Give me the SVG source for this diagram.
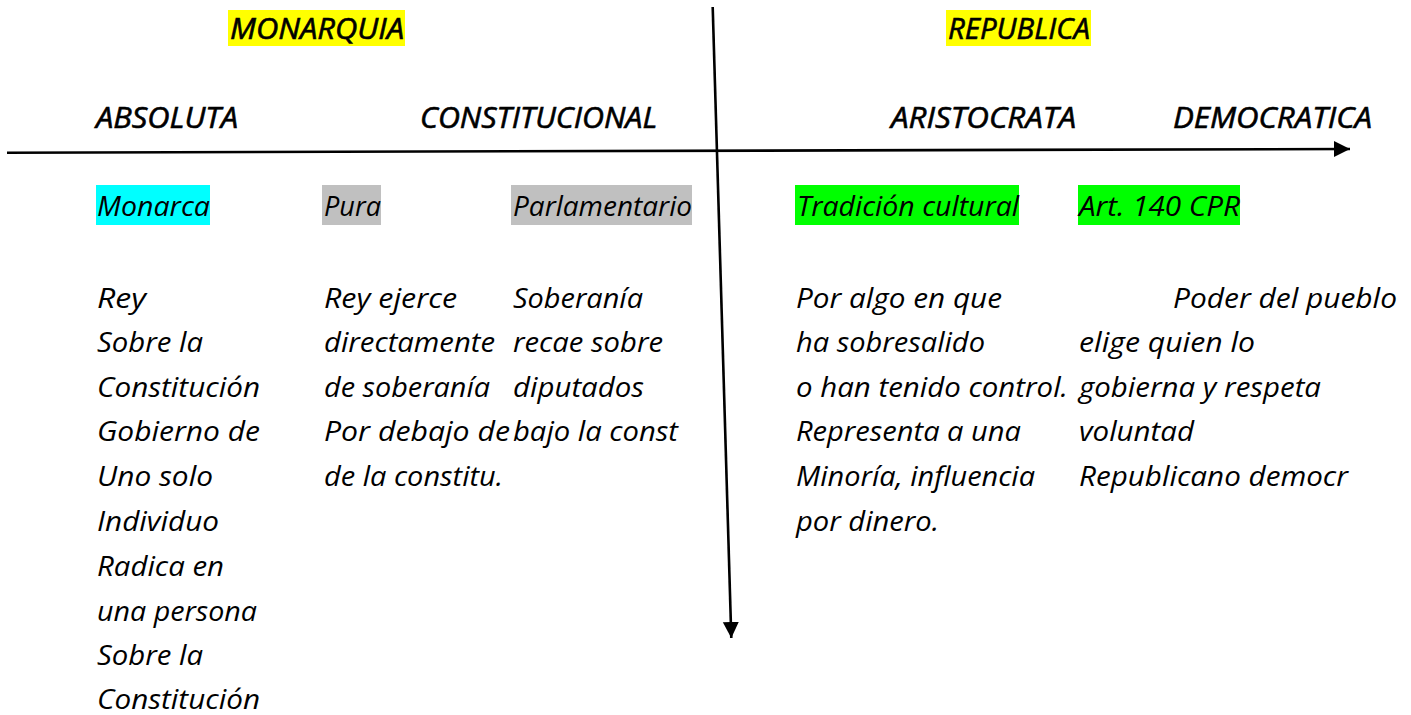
<svg xmlns="http://www.w3.org/2000/svg" width="1411" height="715" viewBox="0 0 1411 715">
<style>
  text { font-family: "Open Sans", "Noto Sans", "Liberation Sans", sans-serif; font-style: italic; font-size: 27px; fill: #000; }
  .lbl { font-size: 27px; }
  .hd { font-size: 29px; stroke: #000; stroke-width: 0.6; }
  .axis { stroke: #000; stroke-width: 2.6; fill: none; }
  .yel { fill: #ffff00; }
  .cyan { fill: #00ffff; }
  .gray { fill: #c0c0c0; }
  .green { fill: #00ff00; }
</style>
<defs>
  <marker id="arr" markerUnits="userSpaceOnUse" markerWidth="18" markerHeight="18" refX="16" refY="8.5" orient="auto">
    <path d="M0,0.5 L16,8.5 L0,16.5 Z" fill="#000"/>
  </marker>
</defs>
<rect width="1411" height="715" fill="#fff"/>
<g id="connectors">
  <line class="axis" x1="7" y1="152.7" x2="1350" y2="149" marker-end="url(#arr)"/>
  <line class="axis" x1="712.7" y1="7" x2="731.3" y2="638" marker-end="url(#arr)"/>
</g>
<g id="monarquia">
  <rect class="yel" x="228" y="10" width="177" height="36"/>
  <text class="hd" x="230" y="39" textLength="174" lengthAdjust="spacingAndGlyphs">MONARQUIA</text>
</g>
<g id="republica">
  <rect class="yel" x="946" y="10" width="145" height="36"/>
  <text class="hd" x="948" y="39" textLength="142" lengthAdjust="spacingAndGlyphs">REPUBLICA</text>
</g>
<g id="absoluta">
  <text class="hd" x="96" y="127.5" textLength="142" lengthAdjust="spacingAndGlyphs">ABSOLUTA</text>
</g>
<g id="constitucional">
  <text class="hd" x="420" y="127.5" textLength="237" lengthAdjust="spacingAndGlyphs">CONSTITUCIONAL</text>
</g>
<g id="aristocrata">
  <text class="hd" x="891" y="127.5" textLength="185" lengthAdjust="spacingAndGlyphs">ARISTOCRATA</text>
</g>
<g id="democratica">
  <text class="hd" x="1173" y="127.5" textLength="199" lengthAdjust="spacingAndGlyphs">DEMOCRATICA</text>
</g>
<g id="monarca">
  <rect class="cyan" x="96" y="185" width="114" height="40"/>
  <text class="lbl" x="97" y="216" textLength="113" lengthAdjust="spacingAndGlyphs">Monarca</text>
</g>
<g id="pura">
  <rect class="gray" x="322" y="185" width="59" height="40"/>
  <text class="lbl" x="324" y="216" textLength="57" lengthAdjust="spacingAndGlyphs">Pura</text>
</g>
<g id="parlamentario">
  <rect class="gray" x="511" y="185" width="181" height="40"/>
  <text class="lbl" x="513" y="216" textLength="179" lengthAdjust="spacingAndGlyphs">Parlamentario</text>
</g>
<g id="tradicion">
  <rect class="green" x="795" y="185" width="224" height="40"/>
  <text class="lbl" x="797" y="216" textLength="222" lengthAdjust="spacingAndGlyphs">Tradición cultural</text>
</g>
<g id="art140">
  <rect class="green" x="1078" y="185" width="162" height="40"/>
  <text class="lbl" x="1079" y="216" textLength="161" lengthAdjust="spacingAndGlyphs">Art. 140 CPR</text>
</g>
<g id="col-absoluta">
  <text x="97" y="308" textLength="49" lengthAdjust="spacingAndGlyphs">Rey</text>
  <text x="97" y="352" textLength="106" lengthAdjust="spacingAndGlyphs">Sobre la</text>
  <text x="97" y="397" textLength="163" lengthAdjust="spacingAndGlyphs">Constitución</text>
  <text x="97" y="441" textLength="163" lengthAdjust="spacingAndGlyphs">Gobierno de</text>
  <text x="97" y="486" textLength="116" lengthAdjust="spacingAndGlyphs">Uno solo</text>
  <text x="97" y="531" textLength="122" lengthAdjust="spacingAndGlyphs">Individuo</text>
  <text x="97" y="576" textLength="127" lengthAdjust="spacingAndGlyphs">Radica en</text>
  <text x="97" y="621" textLength="160" lengthAdjust="spacingAndGlyphs">una persona</text>
  <text x="97" y="665" textLength="106" lengthAdjust="spacingAndGlyphs">Sobre la</text>
  <text x="97" y="709" textLength="163" lengthAdjust="spacingAndGlyphs">Constitución</text>
</g>
<g id="col-pura">
  <text x="324" y="308" textLength="133" lengthAdjust="spacingAndGlyphs">Rey ejerce</text>
  <text x="324" y="352" textLength="171" lengthAdjust="spacingAndGlyphs">directamente</text>
  <text x="324" y="397" textLength="166" lengthAdjust="spacingAndGlyphs">de soberanía</text>
  <text x="324" y="441" textLength="186" lengthAdjust="spacingAndGlyphs">Por debajo de</text>
  <text x="324" y="486" textLength="179" lengthAdjust="spacingAndGlyphs">de la constitu.</text>
</g>
<g id="col-parlamentario">
  <text x="513" y="308" textLength="130" lengthAdjust="spacingAndGlyphs">Soberanía</text>
  <text x="513" y="352" textLength="150" lengthAdjust="spacingAndGlyphs">recae sobre</text>
  <text x="513" y="397" textLength="131" lengthAdjust="spacingAndGlyphs">diputados</text>
  <text x="513" y="441" textLength="165" lengthAdjust="spacingAndGlyphs">bajo la const</text>
</g>
<g id="col-aristocrata">
  <text x="796" y="308" textLength="206" lengthAdjust="spacingAndGlyphs">Por algo en que</text>
  <text x="796" y="352" textLength="189" lengthAdjust="spacingAndGlyphs">ha sobresalido</text>
  <text x="796" y="397" textLength="272" lengthAdjust="spacingAndGlyphs">o han tenido control.</text>
  <text x="796" y="441" textLength="225" lengthAdjust="spacingAndGlyphs">Representa a una</text>
  <text x="796" y="486" textLength="239" lengthAdjust="spacingAndGlyphs">Minoría, influencia</text>
  <text x="796" y="531" textLength="143" lengthAdjust="spacingAndGlyphs">por dinero.</text>
</g>
<g id="col-democratica">
  <text x="1173" y="308" textLength="224" lengthAdjust="spacingAndGlyphs">Poder del pueblo</text>
  <text x="1079" y="352" textLength="176" lengthAdjust="spacingAndGlyphs">elige quien lo</text>
  <text x="1079" y="397" textLength="242" lengthAdjust="spacingAndGlyphs">gobierna y respeta</text>
  <text x="1079" y="441" textLength="115" lengthAdjust="spacingAndGlyphs">voluntad</text>
  <text x="1079" y="486" textLength="269" lengthAdjust="spacingAndGlyphs">Republicano democr</text>
</g>
</svg>
